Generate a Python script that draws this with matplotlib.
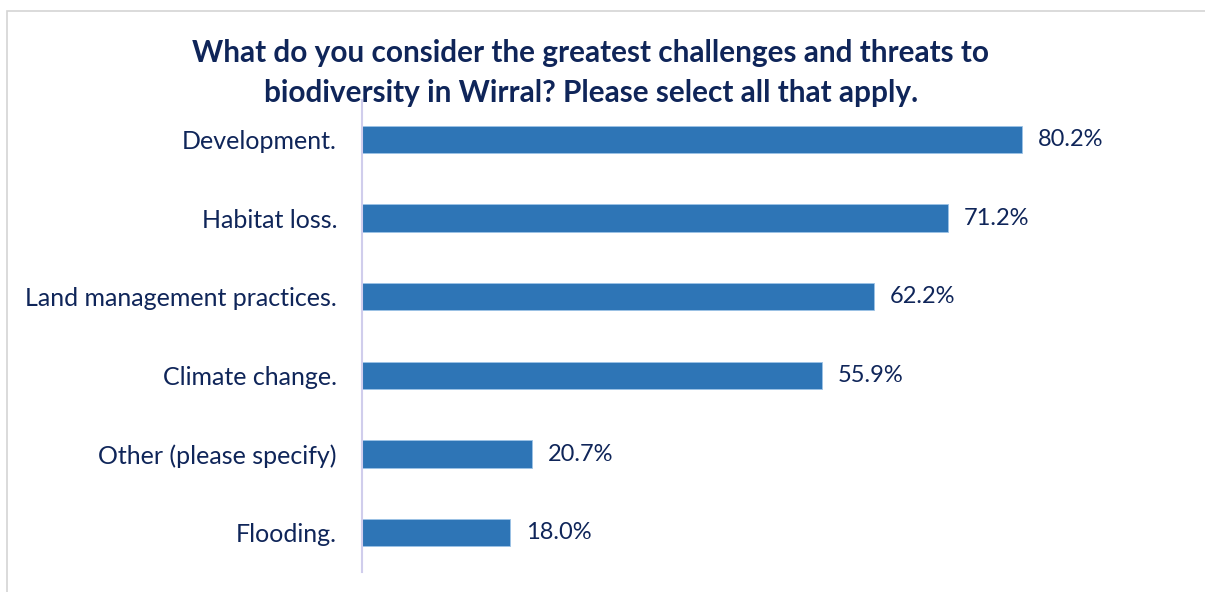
import matplotlib
matplotlib.use("Agg")
import matplotlib.pyplot as plt
from matplotlib.patches import Rectangle

categories = [
    "Development.",
    "Habitat loss.",
    "Land management practices.",
    "Climate change.",
    "Other (please specify)",
    "Flooding.",
]
values = [80.2, 71.2, 62.2, 55.9, 20.7, 18.0]

TEXT = "#0f2559"
BAR = "#2e75b6"

plt.rcParams["font.family"] = ["Lato", "DejaVu Sans"]

fig = plt.figure(figsize=(12.05, 5.92), dpi=100, facecolor="white")

# chart frame (light grey, runs off the right/bottom edge)
fig.patches.append(Rectangle((7 / 1205, -0.1), 1.1, 1 - 11 / 592 + 0.1,
                             transform=fig.transFigure, fill=False,
                             edgecolor="#d4d4d4", linewidth=1.2))

ax = fig.add_axes([362 / 1205, 20 / 592, 823 / 1205, 472 / 592])
y = list(range(len(categories)))
ax.barh(y, values, height=0.35, color=BAR, edgecolor="#9dc3e6", linewidth=0.6)
ax.set_ylim(len(categories) - 0.5, -0.5)
ax.set_xlim(0, 100)

for yi, v in zip(y, values):
    ax.text(v + 1.9, yi, f"{v:.1f}%", va="center", ha="left",
            fontsize=17, color=TEXT)

ax.set_yticks(y)
ax.set_yticklabels(categories, fontsize=18, color=TEXT)
ax.tick_params(axis="y", length=0, pad=18)
ax.set_xticks([])
for s in ("top", "right", "bottom"):
    ax.spines[s].set_visible(False)
ax.spines["left"].set_color("#d0cdec")
ax.spines["left"].set_linewidth(1.5)

fig.text(591 / 1205, 1 - 73 / 592,
         "What do you consider the greatest challenges and threats to\n"
         "biodiversity in Wirral? Please select all that apply.",
         ha="center", va="center", fontsize=21.4, fontweight="bold",
         color=TEXT, linespacing=1.55)

fig.savefig("out.png", dpi=100, facecolor="white")
